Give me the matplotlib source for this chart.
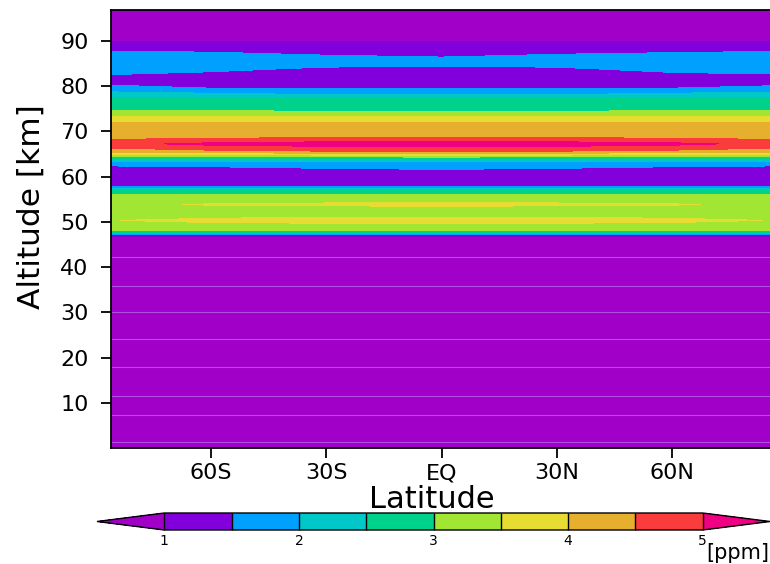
import numpy as np
import matplotlib
matplotlib.use("Agg")
import matplotlib.pyplot as plt

# latitude columns (deg) and altitude rows (km) of the zonal-mean field
lats = [-86, -60, -30, 0, 30, 60, 86]
alts = [0.0, 1.3, 7.4, 11.5, 18.0, 24.1, 30.0, 35.9, 42.2, 46.8,
        47.1, 47.7, 48.0, 49.1, 50.3, 52.0, 53.8, 55.2, 56.1, 56.8,
        57.3, 57.8, 59.8, 61.8, 63.3, 63.8, 64.3, 64.7, 65.1, 65.5,
        67.2, 68.7, 71.9, 73.2, 74.4, 77.5, 78.1, 79.4, 81.5, 83.8,
        85.2, 88.0, 90.0, 97.0]

# mixing ratio [ppm], one row per altitude, columns follow lats
ozone = [
    [0.40, 0.40, 0.40, 0.40, 0.40, 0.40, 0.40],
    [0.45, 0.45, 0.45, 0.45, 0.45, 0.45, 0.45],
    [0.50, 0.50, 0.50, 0.50, 0.50, 0.50, 0.50],
    [0.55, 0.55, 0.55, 0.55, 0.55, 0.55, 0.55],
    [0.60, 0.60, 0.60, 0.60, 0.60, 0.60, 0.60],
    [0.65, 0.65, 0.65, 0.65, 0.65, 0.65, 0.65],
    [0.70, 0.70, 0.70, 0.70, 0.70, 0.70, 0.70],
    [0.75, 0.75, 0.75, 0.75, 0.75, 0.75, 0.75],
    [0.80, 0.80, 0.80, 0.80, 0.80, 0.80, 0.80],
    [0.95, 0.95, 0.95, 0.95, 0.95, 0.95, 0.95],
    [1.50, 1.50, 1.50, 1.50, 1.50, 1.50, 1.50],
    [2.50, 2.50, 2.50, 2.50, 2.50, 2.50, 2.50],
    [3.00, 3.00, 3.00, 3.00, 3.00, 3.00, 3.00],
    [3.35, 3.35, 3.35, 3.35, 3.35, 3.35, 3.35],
    [3.49, 3.60, 3.66, 3.68, 3.66, 3.60, 3.49],
    [3.25, 3.25, 3.25, 3.25, 3.25, 3.25, 3.25],
    [3.45, 3.52, 3.55, 3.56, 3.55, 3.52, 3.45],
    [3.35, 3.35, 3.35, 3.35, 3.35, 3.35, 3.35],
    [3.00, 3.00, 3.00, 3.00, 3.00, 3.00, 3.00],
    [2.50, 2.50, 2.50, 2.50, 2.50, 2.50, 2.50],
    [2.00, 2.00, 2.00, 2.00, 2.00, 2.00, 2.00],
    [1.50, 1.50, 1.50, 1.50, 1.50, 1.50, 1.50],
    [1.10, 1.10, 1.10, 1.10, 1.10, 1.10, 1.10],
    [1.25, 1.35, 1.50, 1.55, 1.50, 1.35, 1.25],
    [1.95, 1.97, 2.00, 2.00, 2.00, 1.97, 1.95],
    [2.30, 2.40, 2.47, 2.50, 2.47, 2.40, 2.30],
    [2.75, 2.88, 2.96, 3.00, 2.96, 2.88, 2.75],
    [3.20, 3.35, 3.45, 3.50, 3.45, 3.35, 3.20],
    [3.65, 3.80, 3.93, 4.00, 3.93, 3.80, 3.65],
    [4.20, 4.35, 4.45, 4.50, 4.45, 4.35, 4.20],
    [4.85, 5.13, 5.25, 5.30, 5.25, 5.13, 4.85],
    [4.33, 4.37, 4.45, 4.50, 4.45, 4.37, 4.33],
    [4.00, 4.00, 4.00, 4.00, 4.00, 4.00, 4.00],
    [3.50, 3.50, 3.50, 3.50, 3.50, 3.50, 3.50],
    [3.05, 3.03, 3.00, 3.00, 3.00, 3.03, 3.05],
    [2.50, 2.50, 2.50, 2.50, 2.50, 2.50, 2.50],
    [2.33, 2.15, 2.00, 2.00, 2.00, 2.15, 2.30],
    [1.62, 1.52, 1.48, 1.48, 1.48, 1.52, 1.60],
    [1.30, 1.20, 1.15, 1.15, 1.15, 1.20, 1.28],
    [1.75, 1.62, 1.42, 1.38, 1.42, 1.66, 1.72],
    [1.95, 1.85, 1.72, 1.65, 1.74, 1.85, 1.93],
    [1.45, 1.42, 1.34, 1.30, 1.37, 1.40, 1.44],
    [0.98, 0.98, 0.98, 0.98, 0.98, 0.98, 0.98],
    [0.80, 0.80, 0.80, 0.80, 0.80, 0.80, 0.80],
]

# model level interfaces that show as faint seams in the lower domain
seam_alts = [1.3, 7.4, 11.5, 18.0, 24.1, 30.0, 35.9, 42.2]

levels = [1.0, 1.5, 2.0, 2.5, 3.0, 3.5, 4.0, 4.5, 5.0]
# under, 8 bands, over
shade_colors = ["#a000c8", "#8200dc", "#00a0ff", "#00c8c8", "#00d28c",
                "#a0e632", "#e6dc32", "#e6af2d", "#fa3c3c", "#f00082"]

lat_ticks = [-60, -30, 0, 30, 60]
lat_labels = ["60S", "30S", "EQ", "30N", "60N"]
alt_ticks = [10, 20, 30, 40, 50, 60, 70, 80, 90]
cbar_ticks = [1, 2, 3, 4, 5]

plt.rcParams["font.family"] = "DejaVu Sans"

fig = plt.figure(figsize=(7.7, 5.64), dpi=100)
W, H = 770.0, 564.0
ax = fig.add_axes([111 / W, 1 - 448 / H, 661 / W, 438 / H])

cs = ax.contourf(lats, alts, np.array(ozone), levels=levels,
                 colors=shade_colors, extend="both")
ax.hlines(seam_alts, lats[0], lats[-1], colors="#b44ee0", linewidth=0.8)

ax.set_xlim(-85.9, 85.9)
ax.set_ylim(0, 96.8)
ax.set_xticks(lat_ticks)
ax.set_xticklabels(lat_labels)
ax.set_yticks(alt_ticks)
ax.tick_params(axis="both", direction="out", length=7, width=1.3,
               labelsize=16, color="black")
ax.tick_params(axis="y", pad=9)
ax.tick_params(axis="x", pad=4)
for sp in ax.spines.values():
    sp.set_linewidth(1.3)

ax.set_xlabel("Latitude", fontsize=22)
ax.xaxis.label.set_va("center")
ax.xaxis.set_label_coords((432 - 111) / 661, (448 - 500) / 438)
ax.set_ylabel("Altitude [km]", fontsize=22.5)
ax.yaxis.label.set(va="center", ha="center")
ax.yaxis.set_label_coords((31 - 111) / 661, (448 - 207) / 438)

cax = fig.add_axes([97 / W, 1 - 530 / H, 673 / W, 17 / H])
cb = fig.colorbar(cs, cax=cax, orientation="horizontal",
                  extendfrac=0.125, drawedges=True)
cb.set_ticks(cbar_ticks)
cb.ax.tick_params(length=0, pad=3, labelsize=10)
cb.outline.set_linewidth(1.0)
cb.dividers.set_color("black")
cb.dividers.set_linewidth(1.0)
fig.text(769 / W, 1 - 553 / H, "[ppm]", ha="right", va="center", fontsize=15)

fig.savefig("out.png", dpi=100)
